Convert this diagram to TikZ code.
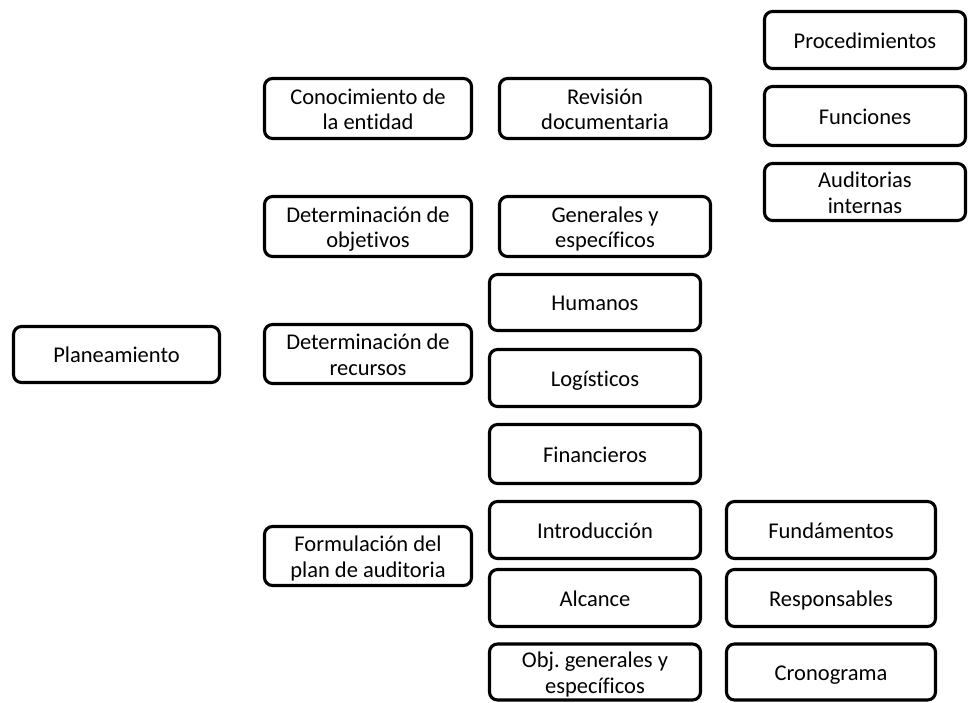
\documentclass[tikz,border=0pt]{standalone}
\usepackage{fontspec}
\setmainfont{Carlito}[Ligatures={NoCommon}]
\frenchspacing
% struts measured from the last baseline, so labels sit at the same height in their boxes
\newcommand{\topstrut}{\rule{0pt}{22.6pt}}
\newcommand{\toptwostrut}{\rule{0pt}{48.1pt}}
\newcommand{\botstrut}{\rule[-6pt]{0pt}{6pt}}
\begin{document}
\begin{tikzpicture}[x=1pt,y=-1pt,
  box/.style={draw=black, line width=3.1pt, rounded corners=8pt, align=center,
    inner sep=0pt, font=\fontsize{22.5}{25.5}\selectfont,
    execute at begin node=\topstrut, execute at end node=\botstrut},
  two/.style={box, execute at begin node=\toptwostrut},
  wh/.style 2 args={minimum width=#1pt, minimum height=#2pt}]
\useasboundingbox (0,0) rectangle (969,702);

% root
\node[box, wh={206}{56}] (plan) at (116.5,354.5) {Planeamiento};

% second level
\node[two, wh={207}{60}] (conoc) at (368,108.5) {Conocimiento de\\la entidad};
\node[two, wh={207}{60}] (detobj) at (368,226.5) {Determinación de\\objetivos};
\node[two, wh={207}{59}] (detrec) at (368,354) {Determinación de\\recursos};
\node[two, wh={207}{59}] (formul) at (368,556) {Formulación del\\plan de auditoria};

% third level
\node[two, wh={211}{60}] (revis) at (605,108.5) {Revisión\\documentaria};
\node[two, wh={211}{60}] (gener) at (605,226.5) {Generales y\\específicos};
\node[box, wh={211}{56}] (human) at (595,302.5) {Humanos};
\node[box, wh={211}{57}] (logis) at (595,378) {Logísticos};
\node[box, wh={211}{59}] (finan) at (595,454) {Financieros};
\node[box, wh={211}{57}] (intro) at (595,530) {Introducción};
\node[box, wh={211}{57}] (alcan) at (595,598) {Alcance};
\node[two, wh={211}{56}] (objgen) at (595,672) {Obj. generales y\\específicos};

% fourth level
\node[box, wh={201}{57}] (proced) at (865,40) {Procedimientos};
\node[box, wh={201}{59}] (funci) at (865,116) {Funciones};
\node[two, wh={201}{57}] (audit) at (865,192) {Auditorias\\internas};
\node[box, wh={209}{57}] (funda) at (831,530) {Fundámentos};
\node[box, wh={209}{57}] (respo) at (831,598) {Responsables};
\node[box, wh={209}{56}] (crono) at (831,672) {Cronograma};
\end{tikzpicture}
\end{document}
